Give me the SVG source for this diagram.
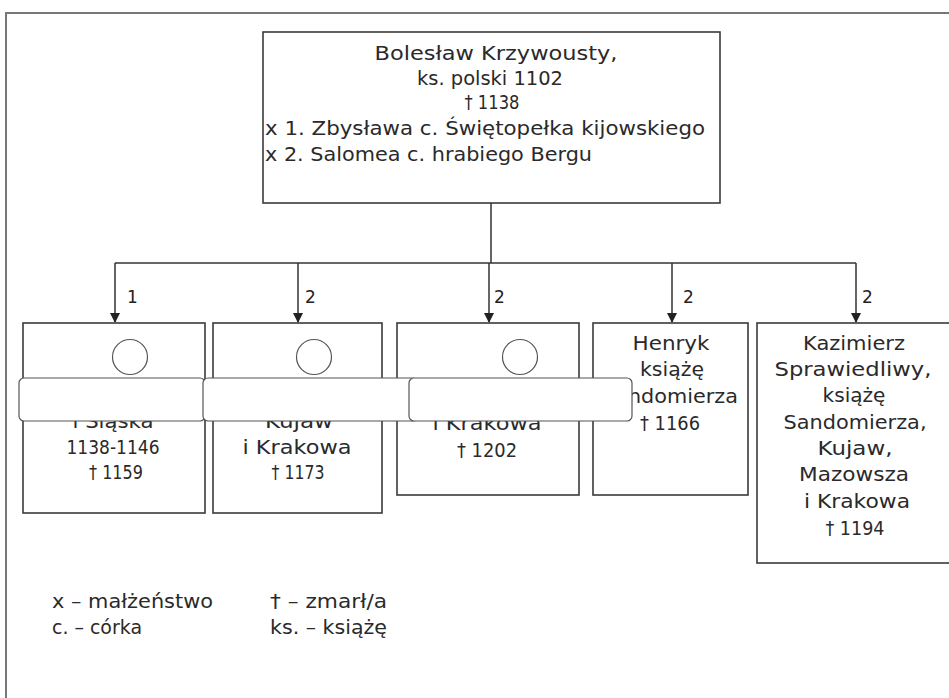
<svg xmlns="http://www.w3.org/2000/svg" width="949" height="698" viewBox="0 0 949 698">
<defs>
<marker id="ah" viewBox="0 0 10 10" refX="9" refY="5" markerWidth="10" markerHeight="10" markerUnits="userSpaceOnUse" orient="auto">
<path d="M0,0 L10,5 L0,10 z" fill="#222"/>
</marker>
<style>
.box{fill:#fff;stroke:#3a3a3a;stroke-width:1.6}
.t{font-family:"DejaVu Sans","Noto Sans",sans-serif;font-size:19px;fill:#2a2a2a;text-anchor:middle}
.l{text-anchor:start}
.con{fill:none;stroke:#333;stroke-width:1.5}
.ov{fill:#fff;stroke:#555;stroke-width:1.2}
.num{font-family:"DejaVu Sans","Noto Sans",sans-serif;font-size:17px;fill:#222}
</style>
</defs>
<rect width="949" height="698" fill="#fff"/>
<path d="M6,698 L6,13 L949,13" fill="none" stroke="#777" stroke-width="2"/>

<g id="parent">
<rect class="box" x="263" y="32" width="457" height="171"/>
<text class="t" x="496" y="60" textLength="243" lengthAdjust="spacingAndGlyphs">Bolesław Krzywousty,</text>
<text class="t" x="490" y="85" textLength="146" lengthAdjust="spacingAndGlyphs">ks. polski 1102</text>
<text class="t" x="492" y="109" textLength="55" lengthAdjust="spacingAndGlyphs">† 1138</text>
<text class="t l" x="265" y="135" textLength="440" lengthAdjust="spacingAndGlyphs">x 1. Zbysława c. Świętopełka kijowskiego</text>
<text class="t l" x="265" y="161" textLength="327" lengthAdjust="spacingAndGlyphs">x 2. Salomea c. hrabiego Bergu</text>
</g>

<g id="connectors">
<path class="con" d="M491,203 L491,263"/>
<path class="con" d="M115,263 L856,263"/>
<path class="con" d="M115,263 L115,322" marker-end="url(#ah)"/>
<path class="con" d="M298,263 L298,322" marker-end="url(#ah)"/>
<path class="con" d="M489,263 L489,322" marker-end="url(#ah)"/>
<path class="con" d="M672,263 L672,322" marker-end="url(#ah)"/>
<path class="con" d="M856,263 L856,322" marker-end="url(#ah)"/>
<text class="num" x="127" y="303">1</text>
<text class="num" x="305" y="303">2</text>
<text class="num" x="494" y="303">2</text>
<text class="num" x="683" y="303">2</text>
<text class="num" x="862" y="303">2</text>
</g>

<g id="child1">
<rect class="box" x="23" y="323" width="182" height="190"/>
<text class="t" x="113" y="428" textLength="81" lengthAdjust="spacingAndGlyphs">i Śląska</text>
<text class="t" x="113" y="454" textLength="93" lengthAdjust="spacingAndGlyphs">1138-1146</text>
<text class="t" x="116" y="479" textLength="54" lengthAdjust="spacingAndGlyphs">† 1159</text>
</g>
<g id="child2">
<rect class="box" x="213" y="323" width="169" height="190"/>
<text class="t" x="299" y="428" textLength="68" lengthAdjust="spacingAndGlyphs">Kujaw</text>
<text class="t" x="297" y="454" textLength="109" lengthAdjust="spacingAndGlyphs">i Krakowa</text>
<text class="t" x="298" y="479" textLength="53" lengthAdjust="spacingAndGlyphs">† 1173</text>
</g>
<g id="child3">
<rect class="box" x="397" y="323" width="182" height="172"/>
<text class="t" x="487" y="430" textLength="109" lengthAdjust="spacingAndGlyphs">i Krakowa</text>
<text class="t" x="487" y="457" textLength="60" lengthAdjust="spacingAndGlyphs">† 1202</text>
</g>
<g id="child4">
<rect class="box" x="593" y="323" width="155" height="172"/>
<text class="t" x="671" y="350" textLength="77" lengthAdjust="spacingAndGlyphs">Henryk</text>
<text class="t" x="672" y="376" textLength="64" lengthAdjust="spacingAndGlyphs">książę</text>
<text class="t" x="670" y="403" textLength="136" lengthAdjust="spacingAndGlyphs">Sandomierza</text>
<text class="t" x="670" y="430" textLength="60" lengthAdjust="spacingAndGlyphs">† 1166</text>
</g>
<g id="child5">
<rect class="box" x="757" y="323" width="200" height="240"/>
<text class="t" x="854" y="350" textLength="102" lengthAdjust="spacingAndGlyphs">Kazimierz</text>
<text class="t" x="853" y="376" textLength="157" lengthAdjust="spacingAndGlyphs">Sprawiedliwy,</text>
<text class="t" x="854" y="402" textLength="63" lengthAdjust="spacingAndGlyphs">książę</text>
<text class="t" x="855" y="429" textLength="143" lengthAdjust="spacingAndGlyphs">Sandomierza,</text>
<text class="t" x="855" y="455" textLength="75" lengthAdjust="spacingAndGlyphs">Kujaw,</text>
<text class="t" x="854" y="481" textLength="110" lengthAdjust="spacingAndGlyphs">Mazowsza</text>
<text class="t" x="857" y="508" textLength="106" lengthAdjust="spacingAndGlyphs">i Krakowa</text>
<text class="t" x="855" y="535" textLength="59" lengthAdjust="spacingAndGlyphs">† 1194</text>
</g>

<g id="overlays">
<circle class="ov" cx="130" cy="357" r="17.5"/>
<circle class="ov" cx="314" cy="357" r="17.5"/>
<circle class="ov" cx="520" cy="357" r="17.5"/>
<rect class="ov" x="19" y="378" width="186" height="43" rx="5"/>
<rect class="ov" x="203" y="378" width="215" height="43" rx="5"/>
<rect class="ov" x="409" y="378" width="223" height="43" rx="5"/>
</g>

<g id="legend">
<text class="t l" x="52" y="608" textLength="161" lengthAdjust="spacingAndGlyphs">x – małżeństwo</text>
<text class="t l" x="52" y="634" textLength="90" lengthAdjust="spacingAndGlyphs">c. – córka</text>
<text class="t l" x="270" y="608" textLength="117" lengthAdjust="spacingAndGlyphs">† – zmarł/a</text>
<text class="t l" x="270" y="634" textLength="117" lengthAdjust="spacingAndGlyphs">ks. – książę</text>
</g>
</svg>
